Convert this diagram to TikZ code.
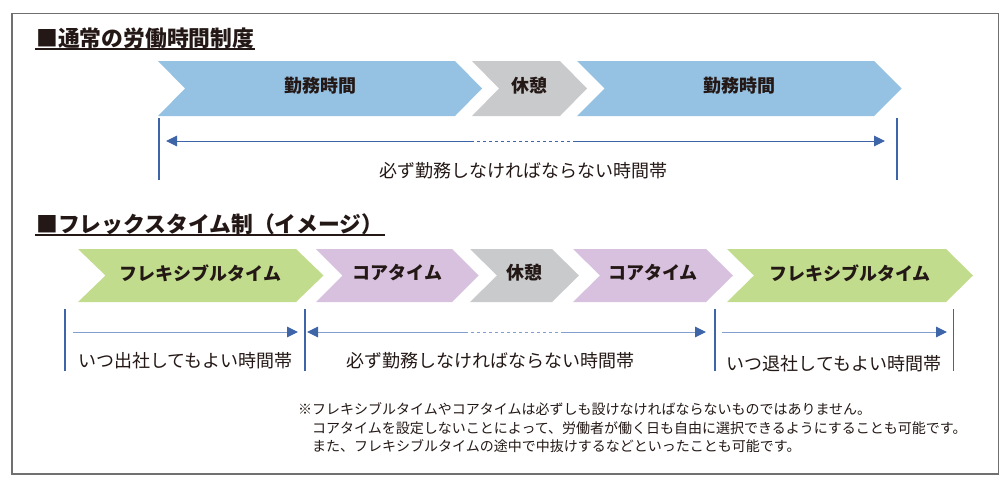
\documentclass[tikz,border=0pt]{standalone}
\usepackage{fontspec}
\setmainfont{Noto Sans CJK JP}
\usetikzlibrary{arrows.meta}

\definecolor{workblue}{RGB}{149,193,227}
\definecolor{restgray}{RGB}{201,202,203}
\definecolor{flexgreen}{RGB}{193,220,140}
\definecolor{corepurple}{RGB}{215,193,222}
\definecolor{spanblue}{RGB}{62,101,168}
\definecolor{spanlight}{RGB}{130,158,206}
\definecolor{inkdark}{RGB}{35,24,21}
\definecolor{framegray}{RGB}{112,112,112}

% chevron: left, body end, top, bottom, depth, colour, name, text
\newcommand{\chev}[8]{%
  \fill[#6] (#1,#3) -- (#2,#3) -- ({#2+#5},{(#3+#4)/2}) -- (#2,#4)
    -- (#1,#4) -- ({#1+#5},{(#3+#4)/2}) -- cycle;
  \node (#7) [chevtext] at ({(#1+#2+#5)/2},{(#3+#4)/2}) {#8};}

\begin{document}
\begin{tikzpicture} [x=1pt, y=-1pt,
            heading/.style = {font=\bfseries\fontsize{21.8}{26}\selectfont,
                text=inkdark, anchor=base west, inner sep=0pt},
            chevtext/.style = {font=\bfseries\fontsize{18}{22}\selectfont,
                text=inkdark, yshift=2.5pt},
            spanlabel/.style = {font=\fontsize{18}{22}\selectfont,
                text=inkdark},
            tick/.style = {draw=spanblue, line width=1.6pt},
            span/.style = {draw=spanblue, line width=1pt},
            tipend/.style = {-{Triangle[length=11pt,width=10.5pt,color=spanblue]}},
            tipstart/.style = {{Triangle[length=11pt,width=10.5pt,color=spanblue]}-}]

        \useasboundingbox (0,0) rectangle (1008,485);
        
        % Frame
        \draw [framegray, line width=1.3pt] (12,13.3) rectangle (998.5,474);
        
        % Heading 1
        \node (head1) [heading] at (36,46.5) {■通常の労働時間制度};
        \draw [line width=1.7pt, inkdark]
            ([yshift=-2.5pt, xshift=-1pt]head1.base west)
            -- ([yshift=-2.5pt, xshift=1pt]head1.base east);
        
        % Row 1 chevrons
        \chev{158}{455}{61}{116}{27}{workblue}{work1}{勤務時間}
        \chev{472}{560}{61}{116}{27}{restgray}{rest1}{休憩}
        \chev{577}{874}{61}{116}{27.5}{workblue}{work2}{勤務時間}
        
        % Row 1 span
        \coordinate (t1) at (159,118);
        \coordinate (b1) at (159,180);
        \coordinate (t2) at (897,118);
        \coordinate (b2) at (897,180);
        \coordinate (s1) at (166,141);
        \coordinate (d1) at (471,141);
        \coordinate (d2) at (574,141);
        \coordinate (s2) at (885,141);
        \draw [tick] (t1) -- (b1);
        \draw [tick] (t2) -- (b2);
        \draw [span, tipstart] (s1) -- (d1);
        \draw [span, dashed] (d1) -- (d2);
        \draw [span, tipend] (d2) -- (s2);
        \node (must1) [spanlabel] at (523,171) {必ず勤務しなければならない時間帯};
        
        % Heading 2
        \node (head2) [heading] at (36,232) {■フレックスタイム制（イメージ）};
        \draw [line width=1.7pt, inkdark]
            ([yshift=-3pt, xshift=-1pt]head2.base west)
            -- ([yshift=-3pt, xshift=1pt]head2.base east);
        
        % Row 2 chevrons
        \chev{78}{296}{249}{302}{27.5}{flexgreen}{flex1}{フレキシブルタイム}
        \chev{316}{452}{249}{302}{26.5}{corepurple}{core1}{コアタイム}
        \chev{470}{552}{249}{302}{27}{restgray}{rest2}{休憩}
        \chev{573}{706}{249}{302}{27}{corepurple}{core2}{コアタイム}
        \chev{727}{946}{249}{302}{27}{flexgreen}{flex2}{フレキシブルタイム}
        
        % Row 2 spans
        \coordinate (u1) at (65,309);
        \coordinate (l1) at (65,371);
        \coordinate (u2) at (305,309);
        \coordinate (l2) at (305,371);
        \coordinate (u3) at (715,309);
        \coordinate (l3) at (715,371);
        \coordinate (u4) at (953.5,309);
        \coordinate (l4) at (953.5,371);
        \draw [tick] (u1) -- (l1);
        \draw [tick] (u2) -- (l2);
        \draw [tick] (u3) -- (l3);
        \draw [tick] (u4) -- (l4);
        
        \coordinate (p1) at (73,332);
        \coordinate (p2) at (298,332);
        \coordinate (p3) at (307,332);
        \coordinate (q1) at (465,332);
        \coordinate (q2) at (562,332);
        \coordinate (p4) at (706,332);
        \coordinate (p5) at (722,332);
        \coordinate (p6) at (947,332);
        \draw [span, draw=spanlight, tipstart, tipend] (p1) -- (p2);
        \draw [span, draw=spanlight, tipstart] (p3) -- (q1);
        \draw [span, draw=spanlight, dashed] (q1) -- (q2);
        \draw [span, draw=spanlight, tipend] (q2) -- (p4);
        \draw [span, draw=spanlight, tipstart, tipend] (p5) -- (p6);
        
        \node (come) [spanlabel] at (185.5,360.5) {いつ出社してもよい時間帯};
        \node (must2) [spanlabel] at (490.5,360.5) {必ず勤務しなければならない時間帯};
        \node (leave) [spanlabel] at (834,364) {いつ退社してもよい時間帯};
        
        % Note
        \node (note) [anchor=north west, align=left, inner sep=0pt,
            font=\fontsize{14}{18.5}\selectfont, text=inkdark] at (298,402.5)
            {※フレキシブルタイムやコアタイムは必ずしも設けなければならないものではありません。\\
             \hspace{1em}コアタイムを設定しないことによって、労働者が働く日も自由に選択できるようにすることも可能です。\\
             \hspace{1em}また、フレキシブルタイムの途中で中抜けするなどといったことも可能です。};
        \end{tikzpicture}
\end{document}
